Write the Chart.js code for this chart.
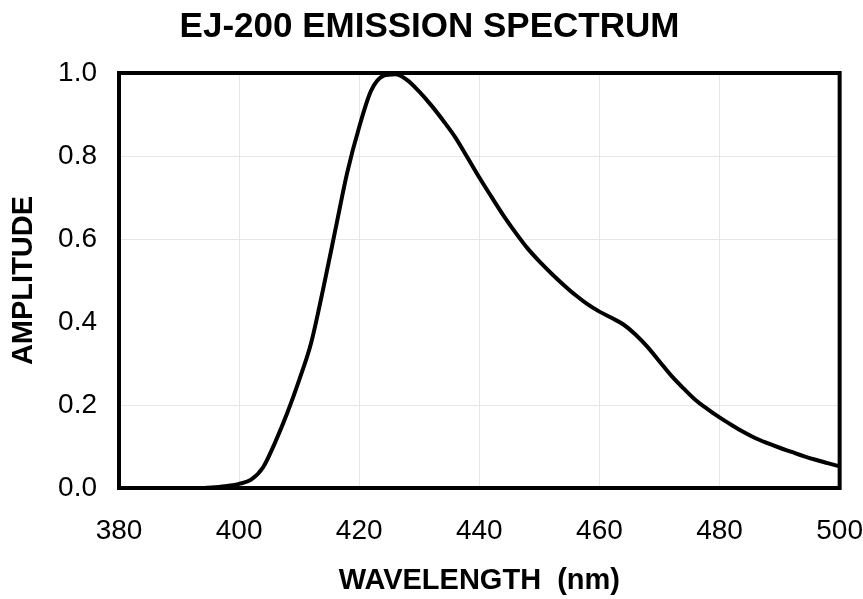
<!DOCTYPE html>
<html>
<head>
<meta charset="utf-8">
<style>
  html, body { margin: 0; padding: 0; background: #ffffff; }
  #wrap { width: 863px; height: 599px; position: relative; }
</style>
<script src="https://cdn.jsdelivr.net/npm/chart.js@4.4.1/dist/chart.umd.min.js"></script>
</head>
<body>
<div id="wrap"><canvas id="c" width="863" height="599"></canvas></div>
<script>
const chartTitle = "EJ-200 EMISSION SPECTRUM";
const xAxisTitle = "WAVELENGTH  (nm)";
const yAxisTitle = "AMPLITUDE";
const xTicks = [380, 400, 420, 440, 460, 480, 500];
const yTicks = [0.0, 0.2, 0.4, 0.6, 0.8, 1.0];

const wavelengths = [394, 396, 398, 400, 402, 404, 406, 408, 410, 412, 414, 416, 418, 420, 422, 424, 426,
  428, 430, 432, 434, 436, 438, 440, 442, 444, 446, 448, 450, 452, 454, 456, 458, 460,
  462, 464, 466, 468, 470, 472, 474, 476, 478, 480, 482, 484, 486, 488, 490, 492, 494, 496, 498, 500];
const amplitudes = [0.0, 0.002, 0.005, 0.01, 0.02, 0.05, 0.11, 0.18, 0.26, 0.35, 0.48, 0.62, 0.76, 0.87, 0.958, 0.993, 0.997,
  0.983, 0.955, 0.922, 0.885, 0.845, 0.797, 0.748, 0.702, 0.657, 0.616, 0.578, 0.546, 0.517, 0.49, 0.465, 0.443, 0.425,
  0.41, 0.394, 0.37, 0.34, 0.305, 0.27, 0.24, 0.212, 0.19, 0.17, 0.152, 0.135, 0.12, 0.108, 0.097, 0.087, 0.077, 0.068, 0.06, 0.052];

const points = wavelengths.map((w, i) => ({ x: w, y: amplitudes[i] }));

const framePlugin = {
  id: 'frame',
  afterDatasetsDraw(chart) {
    const { ctx, chartArea: a } = chart;
    ctx.save();
    ctx.strokeStyle = '#000';
    ctx.lineWidth = 4;
    ctx.strokeRect(a.left, a.top, a.right - a.left, a.bottom - a.top);
    ctx.restore();
  }
};

new Chart(document.getElementById('c'), {
  type: 'line',
  data: {
    datasets: [{
      data: points,
      borderColor: '#000',
      borderWidth: 4,
      pointRadius: 0,
      fill: false,
      cubicInterpolationMode: 'monotone',
      clip: false
    }]
  },
  options: {
    responsive: false,
    animation: false,
    devicePixelRatio: 1,
    layout: { padding: { left: 0, right: 4, top: 0, bottom: 0 } },
    plugins: {
      legend: { display: false },
      tooltip: { enabled: false },
      title: {
        display: true,
        text: chartTitle,
        color: '#000',
        font: { family: 'Liberation Sans', size: 35, weight: 'bold', lineHeight: 1.2 },
        padding: { top: 6, bottom: 25 }
      }
    },
    scales: {
      x: {
        type: 'linear',
        min: 380, max: 500,
        afterFit(s) { s.height = 111; },
        afterBuildTicks(s) { s.ticks = xTicks.map(v => ({ value: v })); },
        ticks: {
          color: '#000',
          font: { family: 'Liberation Sans', size: 28, lineHeight: 1.2 },
          padding: 0,
          maxRotation: 0,
          autoSkip: false,
          callback: v => String(v)
        },
        grid: { color: '#e6e6e6', lineWidth: 1, drawTicks: true, tickLength: 26, tickColor: 'rgba(0,0,0,0)' },
        border: { display: false },
        title: {
          display: true,
          text: xAxisTitle,
          color: '#000',
          font: { family: 'Liberation Sans', size: 29, weight: 'bold', lineHeight: 1.2 },
          padding: { top: 0, bottom: 1 }
        }
      },
      y: {
        type: 'linear',
        min: 0, max: 1,
        afterFit(s) { s.width = 119; },
        afterBuildTicks(s) { s.ticks = yTicks.map(v => ({ value: v })); },
        ticks: {
          color: '#000',
          font: { family: 'Liberation Sans', size: 28, lineHeight: 1.2 },
          padding: 22,
          callback: v => Number(v).toFixed(1)
        },
        grid: {
          color: ctx => (ctx.tick && Math.abs(ctx.tick.value - 0.4) < 1e-6) ? 'rgba(0,0,0,0)' : '#e6e6e6',
          lineWidth: 1,
          drawTicks: false
        },
        border: { display: false },
        title: {
          display: true,
          text: yAxisTitle,
          color: '#000',
          font: { family: 'Liberation Sans', size: 29, weight: 'bold', lineHeight: 1.2 },
          padding: { top: 7, bottom: 0 }
        }
      }
    }
  },
  plugins: [framePlugin]
});
</script>
</body>
</html>
